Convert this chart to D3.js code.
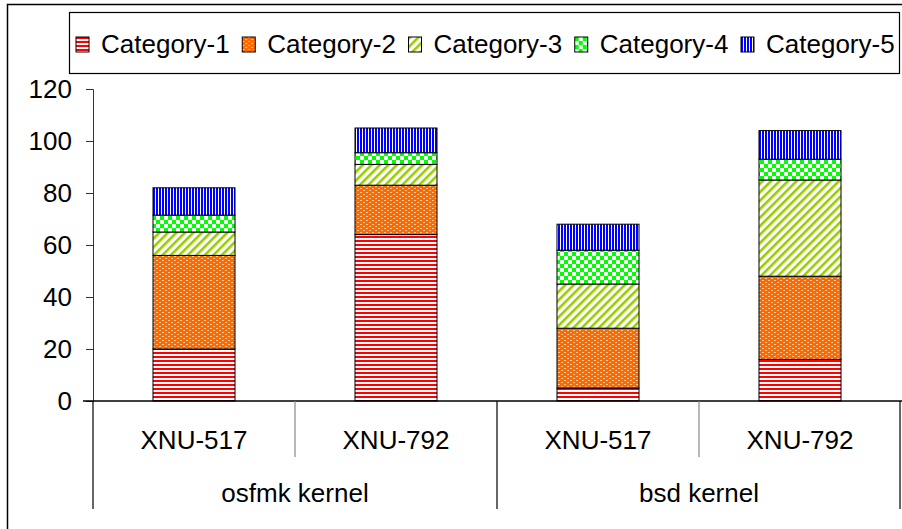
<!DOCTYPE html>
<html>
<head>
<meta charset="utf-8">
<script src="https://cdn.jsdelivr.net/npm/d3@7"></script>
<style>
  body { margin: 0; background: #fff; }
  svg text { font-family: "Liberation Sans", Arial, sans-serif; fill: #000; }
</style>
</head>
<body>
<div id="chart"></div>
<script>
// groups and bars
const kernels = ["osfmk kernel", "bsd kernel"];
const versions = ["XNU-517", "XNU-792"];
const categories = ["Category-1", "Category-2", "Category-3", "Category-4", "Category-5"];

// one value per bar: osfmk/517, osfmk/792, bsd/517, bsd/792
const cat1 = [20, 64, 5, 16];
const cat2 = [36, 19, 23, 32];
const cat3 = [9, 8, 17, 37];
const cat4 = [6.5, 4.5, 13, 8];
const cat5 = [10.5, 9.5, 10, 11];

const yTicks = [0, 20, 40, 60, 80, 100, 120];

const width = 902, height = 529;
const plot = { left: 93, right: 901, top: 89, bottom: 401 };

const bars = [];
kernels.forEach(k => versions.forEach(v => bars.push({ kernel: k, version: v })));
const series = [cat1, cat2, cat3, cat4, cat5];
bars.forEach((b, i) => categories.forEach((c, j) => b[c] = series[j][i]));

const svg = d3.select("#chart").append("svg")
  .attr("width", width)
  .attr("height", height)
  .attr("viewBox", [0, 0, width, height]);

const defs = svg.append("defs");

// fill patterns, one per category
const makePattern = (id, w, h, draw, transform) => {
  const p = defs.append("pattern")
    .attr("id", id)
    .attr("patternUnits", "userSpaceOnUse")
    .attr("width", w)
    .attr("height", h);
  if (transform) p.attr("patternTransform", transform);
  draw(p);
};

makePattern("p1", 4, 4, p => {
  p.append("rect").attr("width", 4).attr("height", 4).attr("fill", "#fff");
  p.append("rect").attr("width", 4).attr("height", 2).attr("fill", "#ff0000");
});
makePattern("p2", 6, 4, p => {
  p.append("rect").attr("width", 6).attr("height", 4).attr("fill", "#ff6a00");
  p.append("rect").attr("x", 0).attr("y", 0).attr("width", 2).attr("height", 1).attr("fill", "#ffc9a0");
  p.append("rect").attr("x", 3).attr("y", 2).attr("width", 2).attr("height", 1).attr("fill", "#ffc9a0");
});
makePattern("p3", 6, 6, p => {
  p.append("rect").attr("width", 6).attr("height", 6).attr("fill", "#fff");
  p.append("rect").attr("width", 2.6).attr("height", 6).attr("fill", "#99cc00");
}, "rotate(45)");
makePattern("p4", 8, 8, p => {
  p.append("rect").attr("width", 8).attr("height", 8).attr("fill", "#fff");
  p.append("rect").attr("width", 4).attr("height", 4).attr("fill", "#00ff00");
  p.append("rect").attr("x", 4).attr("y", 4).attr("width", 4).attr("height", 4).attr("fill", "#00ff00");
});
makePattern("p5", 3, 3, p => {
  p.append("rect").attr("width", 3).attr("height", 3).attr("fill", "#fff");
  p.append("rect").attr("width", 2).attr("height", 3).attr("fill", "#0000ff");
});
const fills = ["url(#p1)", "url(#p2)", "url(#p3)", "url(#p4)", "url(#p5)"];

// outer frame
svg.append("rect")
  .attr("x", 7.5).attr("y", 4.5)
  .attr("width", 1000).attr("height", 1000)
  .attr("fill", "#fff")
  .attr("stroke", "#000")
  .attr("stroke-width", 1.5);

// scales
const x = d3.scaleBand()
  .domain(d3.range(bars.length))
  .range([plot.left, plot.right])
  .paddingInner(0.594)
  .paddingOuter(0.297);

const slot = d3.scaleBand()
  .domain(d3.range(bars.length))
  .range([plot.left, plot.right]);

const y = d3.scaleLinear()
  .domain([0, 120])
  .range([plot.bottom, plot.top]);

// y axis
const yAxis = svg.append("g")
  .attr("transform", `translate(${plot.left},0)`)
  .call(d3.axisLeft(y).tickValues(yTicks).tickSize(7).tickPadding(14));
yAxis.select(".domain").attr("stroke", "#333");
yAxis.selectAll(".tick line").attr("stroke", "#333");
yAxis.selectAll("text")
  .attr("font-size", 26)
  .attr("font-family", "Liberation Sans, Arial, sans-serif")
  .attr("fill", "#000");

// stacked bars
const stacked = d3.stack().keys(categories)(bars);
svg.append("g")
  .selectAll("g")
  .data(stacked)
  .join("g")
    .attr("fill", (d, i) => fills[i])
  .selectAll("rect")
  .data(d => d)
  .join("rect")
    .attr("x", (d, i) => x(i))
    .attr("y", d => y(d[1]))
    .attr("width", x.bandwidth())
    .attr("height", d => y(d[0]) - y(d[1]))
    .attr("stroke", "#000")
    .attr("stroke-width", 1);

// category axis: base line and separators
const axisG = svg.append("g").attr("stroke", "#000");
axisG.append("line")
  .attr("x1", 83).attr("x2", width)
  .attr("y1", plot.bottom).attr("y2", plot.bottom)
  .attr("stroke-width", 1.5);

// separators between versions (short) and kernels (long)
d3.range(bars.length + 1).forEach(i => {
  const xx = i < bars.length ? slot(i) : plot.right - 1;
  const long = i % versions.length === 0;
  axisG.append("line")
    .attr("x1", xx).attr("x2", xx)
    .attr("y1", plot.bottom)
    .attr("y2", long ? 509 : 457)
    .attr("stroke", long ? "#000" : "#888")
    .attr("stroke-width", 1.2);
});

svg.append("g")
  .selectAll("text")
  .data(bars)
  .join("text")
    .attr("x", (d, i) => slot(i) + slot.bandwidth() / 2)
    .attr("y", 449)
    .attr("text-anchor", "middle")
    .attr("font-size", 26)
    .text(d => d.version);

svg.append("g")
  .selectAll("text")
  .data(kernels)
  .join("text")
    .attr("x", (d, i) => slot(i * versions.length) + slot.bandwidth())
    .attr("y", 502)
    .attr("text-anchor", "middle")
    .attr("font-size", 26)
    .text(d => d);

// legend
const legend = svg.append("g");
legend.append("rect")
  .attr("x", 69.5).attr("y", 12.5)
  .attr("width", 830).attr("height", 61)
  .attr("fill", "#fff")
  .attr("stroke", "#000")
  .attr("stroke-width", 1.2);

const legendX = d3.scalePoint()
  .domain(categories)
  .range([76, 741]);

const item = legend.selectAll("g.item")
  .data(categories)
  .join("g")
    .attr("class", "item")
    .attr("transform", d => `translate(${legendX(d)},37)`);
item.append("rect")
  .attr("width", 13).attr("height", 15)
  .attr("fill", (d, i) => fills[i])
  .attr("stroke", "#000")
  .attr("stroke-width", 1);
item.append("text")
  .attr("x", 25)
  .attr("y", 16)
  .attr("font-size", 26)
  .text(d => d);
</script>
</body>
</html>
